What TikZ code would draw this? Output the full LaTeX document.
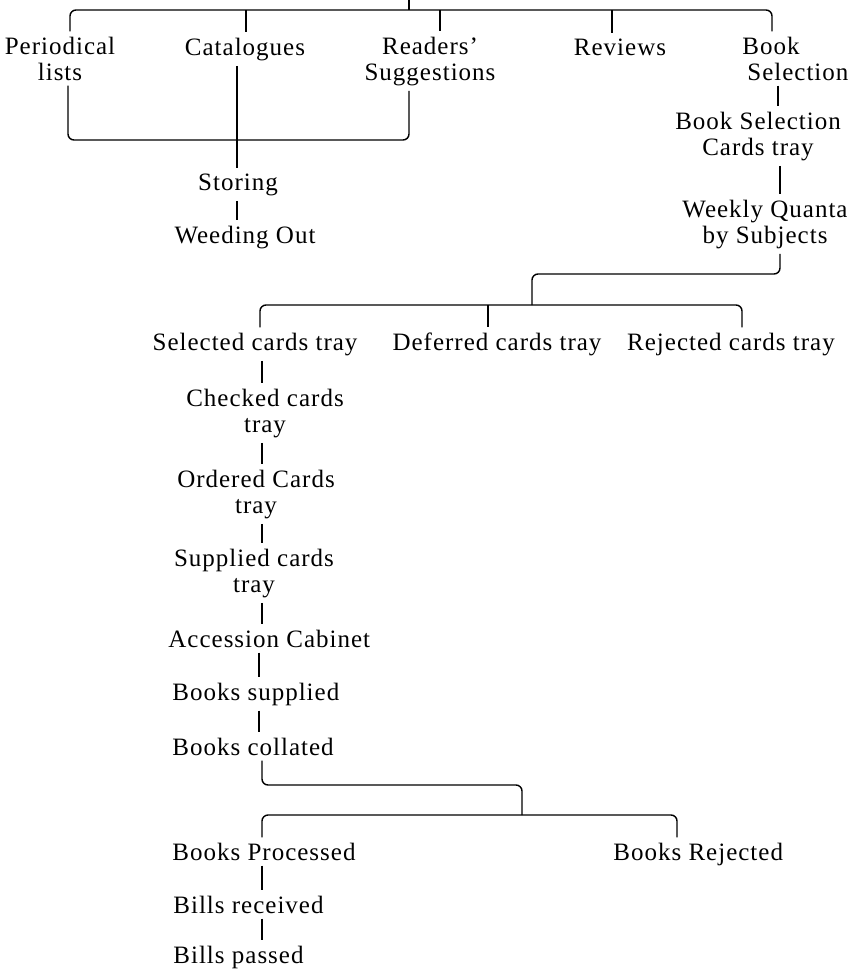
\documentclass[tikz,border=0pt]{standalone}
\usepackage{fontspec}
\setmainfont{Liberation Serif}[LetterSpace=4]
\begin{document}
\begin{tikzpicture}[x=0.5pt,y=-0.5pt,
  lbl/.style={font=\fontsize{12.5pt}{13pt}\selectfont, inner xsep=0pt, inner ysep=2.5pt, align=center, anchor=base},
  lbll/.style={lbl, align=left, anchor=base west},
  conn/.style={line width=0.6pt},
  brk/.style={line width=0.7pt, rounded corners=3pt}]
\useasboundingbox (0,0) rectangle (858,975);
% nodes (multi-line nodes are placed by the baseline of their last line)
\node[lbl] (pl)  at (60,80)  {Periodical\\lists};
\node[lbl] (cat) at (245,55) {Catalogues};
\node[lbl] (rs)  at (430,80) {Readers’\\Suggestions};
\node[lbl] (rev) at (620,55) {Reviews};
\node[lbll] (bs) at (742,80) {Book\\\hspace*{2.5pt}Selection};
\node[lbl] (bsc) at (758,155) {Book Selection\\Cards tray};
\node[lbl] (wq)  at (765,243) {Weekly Quanta\\by Subjects};
\node[lbl] (sto) at (238,190) {Storing};
\node[lbl] (wo)  at (245,243) {Weeding Out};
\node[lbl] (sel) at (255,350) {Selected cards tray};
\node[lbl] (def) at (497,350) {Deferred cards tray};
\node[lbl] (rej) at (731,350) {Rejected cards tray};
\node[lbl] (chk) at (265,432) {Checked cards\\tray};
\node[lbl] (ord) at (256,513) {Ordered Cards\\tray};
\node[lbl] (sup) at (254,592) {Supplied cards\\tray};
\node[lbll] (acc)  at (168,647) {Accession Cabinet};
\node[lbll] (bsup) at (172,700) {Books supplied};
\node[lbll] (bcol) at (172,755) {Books collated};
\node[lbll] (bp)   at (172,860) {Books Processed};
\node[lbll] (brj)  at (613,860) {Books Rejected};
\node[lbll] (bre)  at (173,913) {Bills received};
\node[lbll] (bpa)  at (173,963) {Bills passed};
% top bracket
\coordinate (top) at (409,0);
\coordinate (tm) at (409,10);
\coordinate (tl) at (70,10);
\coordinate (tr) at (772,10);
\draw[conn] (top) -- (tm);
\draw[brk] (pl.north -| tl) -- (tl) -- (tr) -- (bs.north -| tr);
\coordinate (catT) at (246,10);
\coordinate (rsT) at (440,10);
\coordinate (revT) at (612,10);
\draw[conn] (catT) -- (catT |- cat.north);
\draw[conn] (rsT) -- (rsT |- rs.north);
\draw[conn] (revT) -- (revT |- rev.north);
% lower bracket of first group
\coordinate (bl) at (68,140);
\coordinate (br) at (409,140);
\draw[brk] (pl.south -| bl) -- (bl) -- (br) -- (rs.south -| br);
\coordinate (spA) at (237,0);
\draw[conn] (cat.south -| spA) -- (sto.north -| spA);
\draw[conn] (sto.south -| spA) -- (wo.north -| spA);
% right column
\coordinate (spB) at (778,0);
\coordinate (spC) at (780,0);
\draw[conn] (bs.south -| spB) -- (bsc.north -| spB);
\draw[conn] (bsc.south -| spC) -- (wq.north -| spC);
\coordinate (q1) at (780,274);
\coordinate (q2) at (532,274);
\coordinate (q3) at (532,305);
\draw[brk] (wq.south -| q1) -- (q1) -- (q2) -- (q3);
% trays bracket
\coordinate (s1) at (260,305);
\coordinate (s2) at (742,305);
\draw[brk] (sel.north -| s1) -- (s1) -- (s2) -- (rej.north -| s2);
\coordinate (dT) at (488,305);
\draw[conn] (dT) -- (dT |- def.north);
% main spine
\coordinate (spD) at (262,0);
\coordinate (spE) at (259,0);
\draw[conn] (sel.south -| spD) -- (chk.north -| spD);
\draw[conn] (chk.south -| spD) -- (ord.north -| spD);
\draw[conn] (ord.south -| spD) -- (sup.north -| spD);
\draw[conn] (sup.south -| spD) -- (acc.north -| spD);
\draw[conn] (acc.south -| spE) -- (bsup.north -| spE);
\draw[conn] (bsup.south -| spE) -- (bcol.north -| spE);
% books collated bracket
\coordinate (c1) at (262,785);
\coordinate (c2) at (522,785);
\coordinate (c3) at (522,815);
\draw[brk] (bcol.south -| c1) -- (c1) -- (c2) -- (c3);
\coordinate (p1) at (262,815);
\coordinate (p2) at (677,815);
\draw[brk] (bp.north -| p1) -- (p1) -- (p2) -- (brj.north -| p2);
\draw[conn] (bp.south -| spD) -- (bre.north -| spD);
\draw[conn] (bre.south -| spD) -- (bpa.north -| spD);
\end{tikzpicture}
\end{document}
